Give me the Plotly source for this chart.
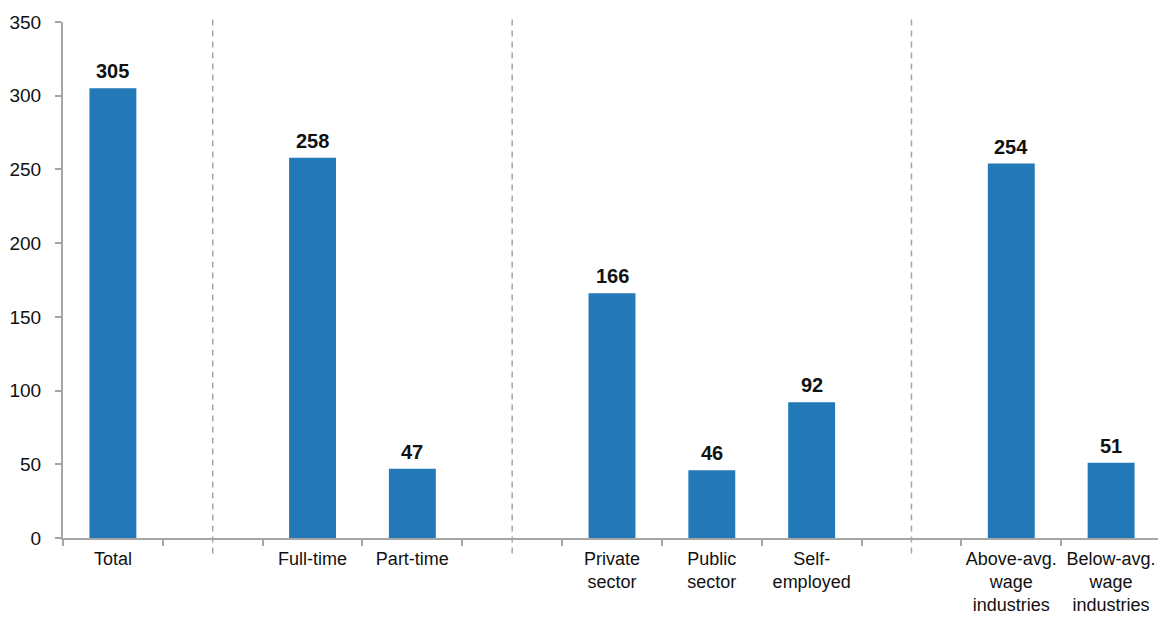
import plotly.graph_objects as go

categories = ["Total", " ", "Full-time", "Part-time", "  ",
              "Private<br>sector", "Public<br>sector", "Self-<br>employed", "   ",
              "Above-avg.<br>wage<br>industries", "Below-avg.<br>wage<br>industries"]
values = [305, None, 258, 47, None, 166, 46, 92, None, 254, 51]
y_ticks = [0, 50, 100, 150, 200, 250, 300, 350]

FONT = "Liberation Sans, Arial, sans-serif"
BAR = "#2379b8"
GRAY = "#a6a6a6"
TXT = "#111111"

fig = go.Figure(go.Bar(
    x=categories, y=values, width=0.47,
    marker=dict(color=BAR, line=dict(width=0)),
    cliponaxis=False, hoverinfo="x+y",
))

for c, v in zip(categories, values):
    if v is None:
        continue
    fig.add_annotation(x=c, y=v, xref="x", yref="y", text="<b>%d</b>" % v,
                       showarrow=False, yanchor="bottom", yshift=4,
                       font=dict(family=FONT, size=20, color=TXT))

separator_idx = [i for i, c in enumerate(categories) if c.strip() == ""]
for i in separator_idx:
    fig.add_shape(type="line", xref="x", yref="paper", x0=i, x1=i, y0=-0.03, y1=1.01,
                  line=dict(color=GRAY, width=1.5, dash="6px,5px"))

fig.update_layout(
    width=1158, height=621,
    margin=dict(l=63, r=0, t=22, b=83, autoexpand=False),
    plot_bgcolor="white", paper_bgcolor="white",
    showlegend=False,
    font=dict(family=FONT, size=18, color=TXT),
)
fig.update_xaxes(
    type="category", categoryorder="array", categoryarray=categories,
    range=[-0.5, 10.47], automargin=False, tickangle=0,
    showline=True, linecolor=GRAY, linewidth=2,
    ticks="outside", ticklen=6, tickcolor=GRAY, tickwidth=2,
    tickson="boundaries", showgrid=False,
    ticklabelstandoff=3,
    tickfont=dict(family=FONT, size=18, color=TXT),
)
fig.update_yaxes(
    range=[0, 350], tickvals=y_ticks, automargin=False,
    showline=True, linecolor=GRAY, linewidth=2,
    ticks="outside", ticklen=6, tickcolor=GRAY, tickwidth=2,
    showgrid=False, zeroline=False,
    ticklabelstandoff=10,
    tickfont=dict(family=FONT, size=19, color=TXT),
)

fig.write_html("out.html")
